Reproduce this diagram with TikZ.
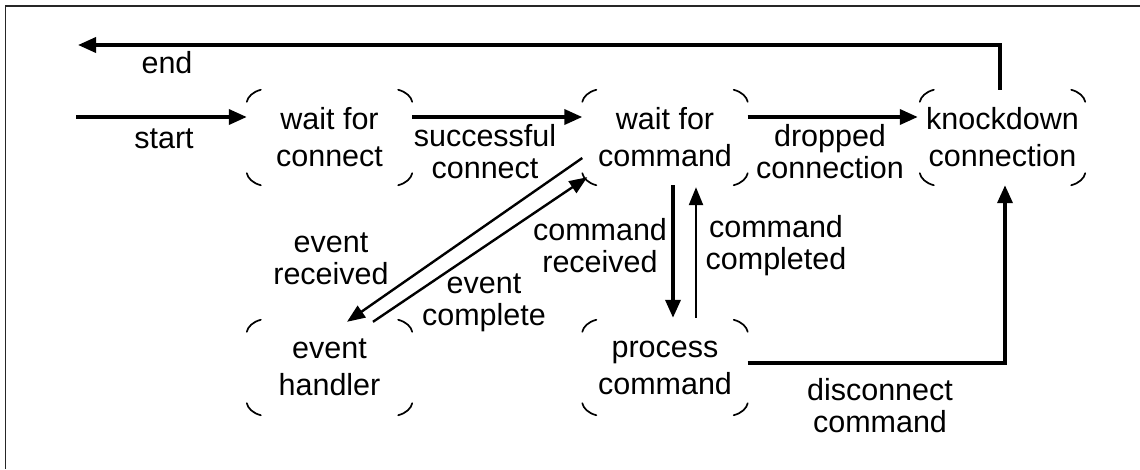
\documentclass[tikz,border=0pt]{standalone}
\usepackage{fontspec}
\setmainfont{Liberation Sans}
\usetikzlibrary{arrows.meta}
\begin{document}
\begin{tikzpicture}[x=1pt,y=-1pt,
  every node/.style={align=center, inner sep=0pt},
  statebox/.style={minimum width=165pt, minimum height=95pt, font=\fontsize{30.5}{37}\selectfont},
  lbl/.style={font=\fontsize{30.5}{32}\selectfont},
  corner/.style={line width=1.7pt, line cap=round},
  frameline/.style={line width=1.5pt, draw=black!85},
  thickarrow/.style={line width=3.6pt, -{Triangle[length=18pt,width=15pt]}},
  thinarrow/.style={line width=2.4pt, -{Triangle[length=18pt,width=14pt]}}
]
\useasboundingbox (0,0) rectangle (1140,469);
\draw[frameline] (1140,6) -- (5.5,6) -- (5.5,469);

% states
\node[statebox] (wc)   at (329.5,137.5) {wait for\\connect};
\node[statebox] (wcmd) at (665,137.5)   {wait for\\command};
\node[statebox] (kd)   at (1002.5,137.5){knockdown\\connection};
\node[statebox] (eh)   at (329.5,367.5) {event\\handler};
\node[statebox] (pc)   at (665,367.5)   {process\\command};

\foreach \n in {wc,wcmd,kd,eh,pc}{
  \begin{scope}[shift={(\n.north west)}]
    \draw[corner] (0,12) .. controls (1,7) and (6,2) .. (14,0);
  \end{scope}
  \begin{scope}[shift={(\n.south west)}]
    \draw[corner] (0,-12) .. controls (1,-7) and (6,-2) .. (14,0);
  \end{scope}
  \begin{scope}[shift={(\n.north east)}]
    \draw[corner] (-14,0) .. controls (-6,2) and (-1,7) .. (0,12);
  \end{scope}
  \begin{scope}[shift={(\n.south east)}]
    \draw[corner] (-14,0) .. controls (-6,-2) and (-1,-7) .. (0,-12);
  \end{scope}
}

% free ends
\coordinate (s0) at (76,117);
\coordinate (e0) at (78,45);

% connectors
\draw[thickarrow] (s0) -- (s0 -| wc.west);
\draw[thickarrow] ([yshift=20.5pt]wc.east) -- ([yshift=20.5pt]wcmd.west);
\draw[thickarrow] ([yshift=20.5pt]wcmd.east) -- ([yshift=20.5pt,xshift=-2pt]kd.west);
\draw[thickarrow] ([xshift=-2.5pt]kd.north) |- (e0);
\draw[thinarrow] ([yshift=-20.5pt]wcmd.west) -- ([xshift=17.5pt,yshift=-2pt]eh.north);
\draw[thinarrow] ([xshift=43.5pt,yshift=-2pt]eh.north) -- ([shift={(5pt,8pt)}]wcmd.south west);
\draw[thickarrow] ([xshift=8pt]wcmd.south) -- ([xshift=8pt,yshift=2pt]pc.north);
\draw[thinarrow] ([xshift=31pt,yshift=2pt]pc.north) -- ([xshift=31pt,yshift=-2pt]wcmd.south);
\draw[thickarrow] ([yshift=4.5pt]pc.east) -| ([xshift=2.5pt]kd.south);

% labels
\node[lbl] (lend)  at (167,63)  {end};
\node[lbl] (lstart) at (164,139) {start};
\node[lbl] (lsc)   at (485,152) {successful\\connect};
\node[lbl] (ldc)   at (830,152) {dropped\\connection};
\node[lbl] (ler)   at (331,259) {event\\received};
\node[lbl] (lec)   at (484,303) {event\\complete};
\node[lbl] (lcr)   at (600,246) {command\\received};
\node[lbl] (lcc)   at (776,246) {command\\completed};
\node[lbl] (ldis)  at (880,406) {disconnect\\command};
\end{tikzpicture}
\end{document}
